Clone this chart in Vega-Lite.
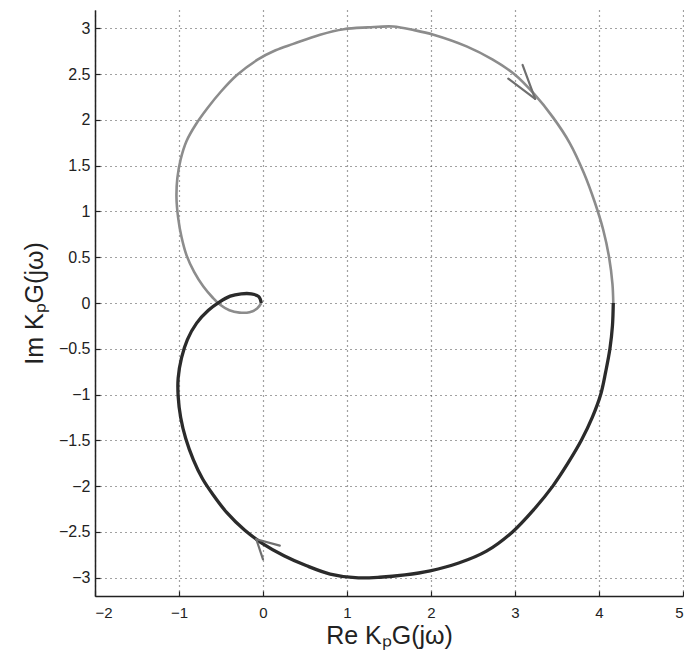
{
  "$schema": "https://vega.github.io/schema/vega-lite/v6.json",
  "width": 588,
  "height": 586,
  "autosize": "none",
  "padding": {"left": 95, "top": 10, "right": 1, "bottom": 63},
  "background": "white",
  "config": {
    "view": {"stroke": null},
    "font": "Liberation Sans",
    "axis": {
      "domainColor": "#222",
      "domainWidth": 1.5,
      "tickColor": "#222",
      "tickSize": -5,
      "tickWidth": 1.2,
      "grid": true,
      "gridColor": "#444",
      "gridDash": [1, 4],
      "gridWidth": 1.2,
      "labelFont": "Liberation Sans",
      "labelColor": "#222",
      "titleFont": "Liberation Sans",
      "titleFontWeight": "normal",
      "titleColor": "#222"
    }
  },
  "datasets": {
    "upper": [
      {"i": 0, "re": 4.17, "im": 0.0},
      {"i": 1, "re": 4.16, "im": 0.21},
      {"i": 2, "re": 4.12, "im": 0.5},
      {"i": 3, "re": 4.05, "im": 0.8},
      {"i": 4, "re": 3.95, "im": 1.1},
      {"i": 5, "re": 3.82, "im": 1.42},
      {"i": 6, "re": 3.65, "im": 1.75},
      {"i": 7, "re": 3.45, "im": 2.03},
      {"i": 8, "re": 3.23, "im": 2.28},
      {"i": 9, "re": 2.99, "im": 2.5},
      {"i": 10, "re": 2.73, "im": 2.66},
      {"i": 11, "re": 2.43, "im": 2.8},
      {"i": 12, "re": 2.03, "im": 2.93},
      {"i": 13, "re": 1.8, "im": 2.98},
      {"i": 14, "re": 1.55, "im": 3.02},
      {"i": 15, "re": 1.25, "im": 3.01},
      {"i": 16, "re": 0.96, "im": 2.99},
      {"i": 17, "re": 0.68, "im": 2.93},
      {"i": 18, "re": 0.36, "im": 2.83},
      {"i": 19, "re": 0.15, "im": 2.76},
      {"i": 20, "re": -0.06, "im": 2.66},
      {"i": 21, "re": -0.31, "im": 2.49},
      {"i": 22, "re": -0.5, "im": 2.31},
      {"i": 23, "re": -0.66, "im": 2.13},
      {"i": 24, "re": -0.8, "im": 1.95},
      {"i": 25, "re": -0.91, "im": 1.77},
      {"i": 26, "re": -0.98, "im": 1.57},
      {"i": 27, "re": -1.02, "im": 1.36},
      {"i": 28, "re": -1.03, "im": 1.15},
      {"i": 29, "re": -1.01, "im": 0.93},
      {"i": 30, "re": -0.97, "im": 0.72},
      {"i": 31, "re": -0.91, "im": 0.52},
      {"i": 32, "re": -0.82, "im": 0.34},
      {"i": 33, "re": -0.71, "im": 0.18},
      {"i": 34, "re": -0.6, "im": 0.06},
      {"i": 35, "re": -0.51, "im": -0.02},
      {"i": 36, "re": -0.4, "im": -0.08},
      {"i": 37, "re": -0.28, "im": -0.105},
      {"i": 38, "re": -0.16, "im": -0.1},
      {"i": 39, "re": -0.07, "im": -0.06},
      {"i": 40, "re": -0.02, "im": 0.0}
    ],
    "lower": [
      {"i": 0, "re": 4.17, "im": 0.0},
      {"i": 1, "re": 4.16, "im": -0.25},
      {"i": 2, "re": 4.13, "im": -0.5},
      {"i": 3, "re": 4.08, "im": -0.75},
      {"i": 4, "re": 4.02, "im": -1.0},
      {"i": 5, "re": 3.92, "im": -1.25},
      {"i": 6, "re": 3.79, "im": -1.5},
      {"i": 7, "re": 3.63, "im": -1.75},
      {"i": 8, "re": 3.45, "im": -2.0},
      {"i": 9, "re": 3.23, "im": -2.25},
      {"i": 10, "re": 2.97, "im": -2.5},
      {"i": 11, "re": 2.66, "im": -2.71},
      {"i": 12, "re": 2.33, "im": -2.84},
      {"i": 13, "re": 1.99, "im": -2.925},
      {"i": 14, "re": 1.69, "im": -2.97},
      {"i": 15, "re": 1.39, "im": -2.995},
      {"i": 16, "re": 1.1, "im": -3.0},
      {"i": 17, "re": 0.8, "im": -2.96},
      {"i": 18, "re": 0.52, "im": -2.87},
      {"i": 19, "re": 0.25, "im": -2.76},
      {"i": 20, "re": 0.0, "im": -2.63},
      {"i": 21, "re": -0.22, "im": -2.48},
      {"i": 22, "re": -0.43, "im": -2.29},
      {"i": 23, "re": -0.59, "im": -2.1},
      {"i": 24, "re": -0.72, "im": -1.92},
      {"i": 25, "re": -0.83, "im": -1.71},
      {"i": 26, "re": -0.92, "im": -1.48},
      {"i": 27, "re": -0.98, "im": -1.25},
      {"i": 28, "re": -1.01, "im": -1.02},
      {"i": 29, "re": -1.01, "im": -0.82},
      {"i": 30, "re": -0.97, "im": -0.6},
      {"i": 31, "re": -0.9, "im": -0.4},
      {"i": 32, "re": -0.79, "im": -0.22},
      {"i": 33, "re": -0.65, "im": -0.08},
      {"i": 34, "re": -0.52, "im": 0.01},
      {"i": 35, "re": -0.39, "im": 0.075},
      {"i": 36, "re": -0.26, "im": 0.1},
      {"i": 37, "re": -0.14, "im": 0.1},
      {"i": 38, "re": -0.05, "im": 0.07},
      {"i": 39, "re": -0.02, "im": 0.0}
    ],
    "arrows": [
      {"arm": "a1", "i": 0, "re": 3.09, "im": 2.6},
      {"arm": "a1", "i": 1, "re": 3.24, "im": 2.23},
      {"arm": "a2", "i": 0, "re": 2.92, "im": 2.45},
      {"arm": "a2", "i": 1, "re": 3.24, "im": 2.23},
      {"arm": "b1", "i": 0, "re": 0.2, "im": -2.65},
      {"arm": "b1", "i": 1, "re": -0.08, "im": -2.58},
      {"arm": "b2", "i": 0, "re": 0.0, "im": -2.8},
      {"arm": "b2", "i": 1, "re": -0.08, "im": -2.58}
    ]
  },
  "encoding": {
    "x": {
      "field": "re",
      "type": "quantitative",
      "scale": {"domain": [-2, 5], "nice": false, "zero": false},
      "axis": {
        "values": [-2, -1, 0, 1, 2, 3, 4, 5],
        "format": "~d",
        "labelFontSize": 15,
        "labelPadding": 14,
        "title": "Re KₚG(jω)",
        "titleFontSize": 25,
        "titlePadding": 3
      }
    },
    "y": {
      "field": "im",
      "type": "quantitative",
      "scale": {"domain": [-3.2, 3.2], "nice": false, "zero": false},
      "axis": {
        "values": [-3, -2.5, -2, -1.5, -1, -0.5, 0, 0.5, 1, 1.5, 2, 2.5, 3],
        "format": ".1~f",
        "labelFontSize": 16,
        "labelPadding": 10,
        "title": "Im KₚG(jω)",
        "titleFontSize": 25,
        "titlePadding": 11
      }
    },
    "order": {"field": "i", "type": "quantitative"}
  },
  "layer": [
    {
      "data": {"name": "upper"},
      "mark": {"type": "line", "interpolate": "catmull-rom", "color": "#8c8c8c", "strokeWidth": 2.6, "clip": true}
    },
    {
      "data": {"name": "lower"},
      "mark": {"type": "line", "interpolate": "catmull-rom", "color": "#2b2b2b", "strokeWidth": 3.3, "clip": true}
    },
    {
      "data": {"name": "arrows"},
      "mark": {"type": "line", "color": "#6f6f6f", "strokeWidth": 2.2, "strokeCap": "round"},
      "encoding": {"detail": {"field": "arm", "type": "nominal"}}
    }
  ]
}
